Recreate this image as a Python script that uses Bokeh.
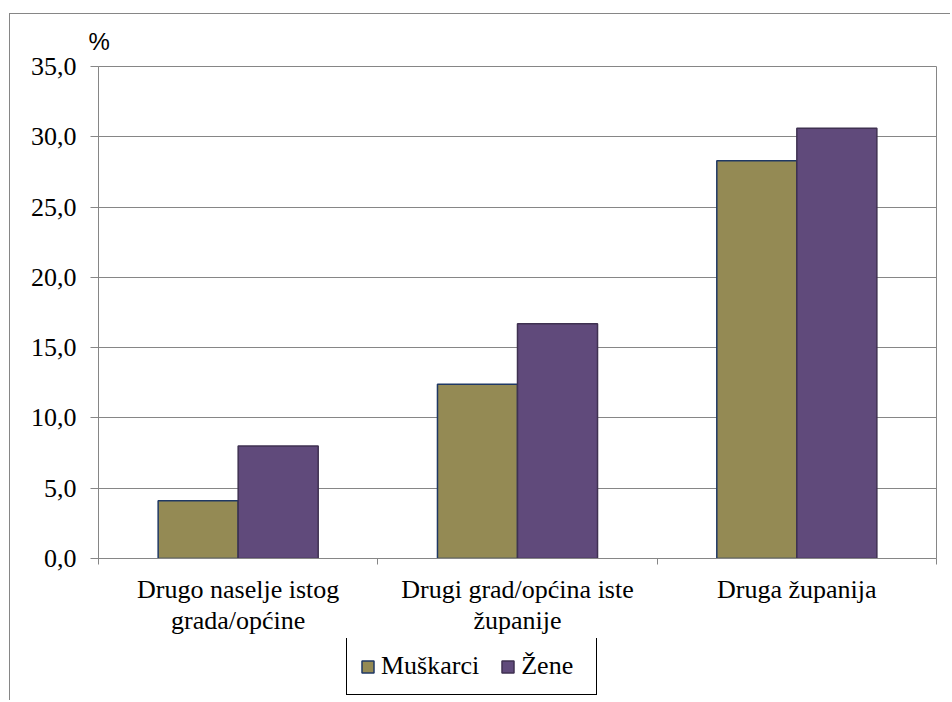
from bokeh.plotting import figure
from bokeh.layouts import column
from bokeh.models import (Range1d, FixedTicker, LinearAxis, Legend, LegendItem,
                          ColumnDataSource)
from bokeh.embed import file_html
from bokeh.resources import INLINE

# ---- data -------------------------------------------------------------
categories = ["Drugo naselje istog\ngrada/općine",
              "Drugi grad/općina iste\nžupanije",
              "Druga županija"]
series_names = ["Muškarci", "Žene"]
muskarci = [4.1, 12.4, 28.3]
zene = [8.0, 16.7, 30.6]
y_ticks = [0, 5, 10, 15, 20, 25, 30, 35]
y_tick_labels = ["0,0", "5,0", "10,0", "15,0", "20,0", "25,0", "30,0", "35,0"]
unit_label = "%"

# ---- style --------------------------------------------------------------
GRAY = "#868686"
GREEN = "#948A54"
GREEN_EDGE = "#1F3864"
PURPLE = "#604A7B"
PURPLE_EDGE = "#3F3151"
SERIF = "Liberation Serif"
BAR_W = 0.2865

n = len(categories)
centers = [i + 0.5 for i in range(n)]

p = figure(width=940, height=624,
           x_range=Range1d(0, n), y_range=Range1d(y_ticks[0], y_ticks[-1]),
           min_border_left=88, min_border_right=14,
           min_border_top=52, min_border_bottom=80,
           output_backend="svg", toolbar_location=None)

p.background_fill_color = "white"
p.border_fill_color = "white"
p.outline_line_color = GRAY
p.outline_line_width = 1

# unit label as title
p.title.text = unit_label
p.title.text_font = "Liberation Sans"
p.title.text_font_size = "24px"
p.title.text_font_style = "normal"
p.title.text_color = "black"
p.title.align = "left"
p.title.offset = -10
p.title.standoff = 23

# y axis
p.yaxis.ticker = FixedTicker(ticks=y_ticks)
p.yaxis.major_label_overrides = dict(zip(y_ticks, y_tick_labels))
p.yaxis.major_label_text_font = SERIF
p.yaxis.major_label_text_font_size = "26px"
p.yaxis.major_label_text_color = "black"
p.yaxis.major_label_standoff = 14
p.yaxis.major_tick_out = 8
p.yaxis.major_tick_in = 0
p.yaxis.minor_tick_line_color = None
p.yaxis.axis_line_color = GRAY
p.yaxis.major_tick_line_color = GRAY
p.ygrid.ticker = FixedTicker(ticks=y_ticks)
p.ygrid.grid_line_color = GRAY
p.ygrid.grid_line_width = 1
p.xgrid.visible = False

# x axis 1: boundary ticks only
bounds = list(range(n + 1))
xa = p.xaxis[0]
xa.ticker = FixedTicker(ticks=bounds)
xa.major_label_overrides = {b: "" for b in bounds}
xa.major_label_text_font_size = "0px"
xa.major_label_standoff = 0
xa.major_tick_out = 6
xa.major_tick_in = 0
xa.minor_tick_line_color = None
xa.axis_line_color = GRAY
xa.major_tick_line_color = GRAY

# x axis 2: category labels at centres
xb = LinearAxis(ticker=FixedTicker(ticks=centers),
                major_label_overrides=dict(zip(centers, categories)))
xb.axis_line_color = None
xb.major_tick_line_color = None
xb.minor_tick_line_color = None
xb.major_tick_out = 0
xb.major_tick_in = 0
xb.major_label_standoff = 10
xb.major_label_text_font = SERIF
xb.major_label_text_font_size = "26px"
xb.major_label_text_line_height = 1.1
xb.major_label_text_color = "black"
p.add_layout(xb, "below")

# bars
src_m = ColumnDataSource(dict(x=[c - BAR_W / 2 for c in centers], top=muskarci))
src_z = ColumnDataSource(dict(x=[c + BAR_W / 2 for c in centers], top=zene))
p.vbar(x="x", top="top", bottom=0, width=BAR_W, source=src_m,
       fill_color=GREEN, line_color=GREEN_EDGE, line_width=1.5)
p.vbar(x="x", top="top", bottom=0, width=BAR_W, source=src_z,
       fill_color=PURPLE, line_color=PURPLE_EDGE, line_width=1.5)

# legend strip (separate figure directly under the chart)
lg = figure(width=940, height=62, x_range=Range1d(0, 1), y_range=Range1d(0, 1),
            min_border=0, x_axis_type=None, y_axis_type=None,
            output_backend="svg", toolbar_location=None)
lg.outline_line_color = None
lg.grid.visible = False
lg.background_fill_color = "white"
lg.border_fill_color = "white"
# legend keys: a tiny mark each, hidden behind the legend box
k_m = lg.vbar(x=[0.45], top=[0.6], bottom=0.4, width=0.01, fill_color=GREEN,
              line_color=GREEN_EDGE, line_width=1.5)
k_z = lg.vbar(x=[0.45], top=[0.6], bottom=0.4, width=0.01, fill_color=PURPLE,
              line_color=PURPLE_EDGE, line_width=1.5)
legend = Legend(items=[LegendItem(label=series_names[0], renderers=[k_m]),
                       LegendItem(label=series_names[1], renderers=[k_z])],
                orientation="horizontal", location=(248, 5), margin=0,
                border_line_color="black", border_line_width=1,
                border_line_alpha=1.0,
                padding=13, spacing=21, label_standoff=6,
                glyph_width=15, glyph_height=15, label_width=62,
                label_text_font=SERIF, label_text_font_size="26px",
                label_text_color="black",
                background_fill_color="white", background_fill_alpha=1)
lg.add_layout(legend, "center")

layout = column(p, lg, spacing=0)
layout.styles = {"margin-left": "9px", "margin-top": "13px",
                 "border-left": "1px solid " + GRAY, "border-top": "1px solid " + GRAY}

open("out.html", "w").write(file_html(layout, INLINE))
